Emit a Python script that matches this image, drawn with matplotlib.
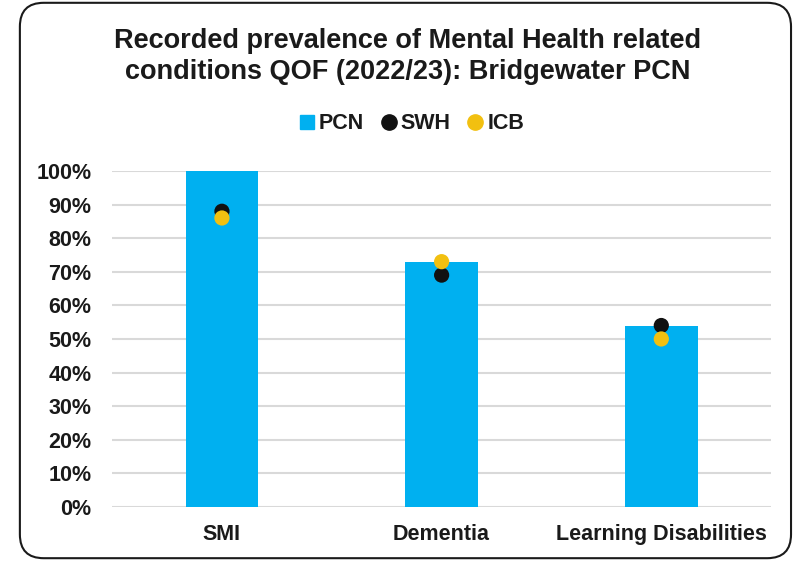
import matplotlib.pyplot as plt
from matplotlib.patches import FancyBboxPatch
from matplotlib.lines import Line2D
from matplotlib.ticker import PercentFormatter

plt.rcParams['font.family'] = ['Liberation Sans', 'DejaVu Sans']

categories = ['SMI', 'Dementia', 'Learning Disabilities']
pcn = [100, 73, 54]
swh = [88, 69, 54]
icb = [86, 73, 50]

fig = plt.figure(figsize=(7.95, 5.61), dpi=100)
ax = fig.add_axes([0.141, 0.0963, 0.829, 0.599])

x = range(len(categories))
ax.bar(x, pcn, width=0.33, color='#00B0F0', zorder=2)
ax.scatter(x, swh, s=120, color='#111111', zorder=3, edgecolors='none')
ax.scatter(x, icb, s=120, color='#F2C010', zorder=4, edgecolors='none')

ax.set_xlim(-0.5, 2.5)
ax.set_ylim(0, 100)
ax.set_yticks(range(0, 101, 10))
ax.yaxis.set_major_formatter(PercentFormatter(decimals=0))
ax.set_xticks(list(x))
ax.set_xticklabels(categories)
ax.grid(axis='y', color='#d9d9d9', linewidth=1.5, zorder=0)
ax.set_axisbelow(True)
for s in ax.spines.values():
    s.set_visible(False)
ax.tick_params(length=0, labelsize=15.5, colors='#1a1a1a')
ax.tick_params(axis='y', pad=15)
ax.tick_params(axis='x', pad=12)
for lab in ax.get_xticklabels() + ax.get_yticklabels():
    lab.set_fontweight('bold')

fig.text(0.513, 0.90, 'Recorded prevalence of Mental Health related\nconditions QOF (2022/23): Bridgewater PCN',
         ha='center', va='center', fontsize=19.5, fontweight='bold', color='#1a1a1a', linespacing=1.25)

handles = [
    Line2D([], [], marker='s', linestyle='none', color='#00B0F0', markersize=10.5),
    Line2D([], [], marker='o', linestyle='none', color='#111111', markersize=11),
    Line2D([], [], marker='o', linestyle='none', color='#F2C010', markersize=11),
]
leg = fig.legend(handles, ['PCN', 'SWH', 'ICB'], loc='center', bbox_to_anchor=(0.518, 0.779),
                 ncol=3, frameon=False, handlelength=0.7, handletextpad=0.2, columnspacing=0.8,
                 prop={'weight': 'bold', 'size': 15.5})
for t in leg.get_texts():
    t.set_color('#1a1a1a')

border = FancyBboxPatch((0.025, 0.005), 0.97, 0.99, boxstyle='round,pad=0,rounding_size=0.03',
                        transform=fig.transFigure, fill=False, edgecolor='#1a1a1a', linewidth=1.5,
                        mutation_aspect=795 / 561)
fig.patches.append(border)

fig.savefig('out.png', dpi=100)
